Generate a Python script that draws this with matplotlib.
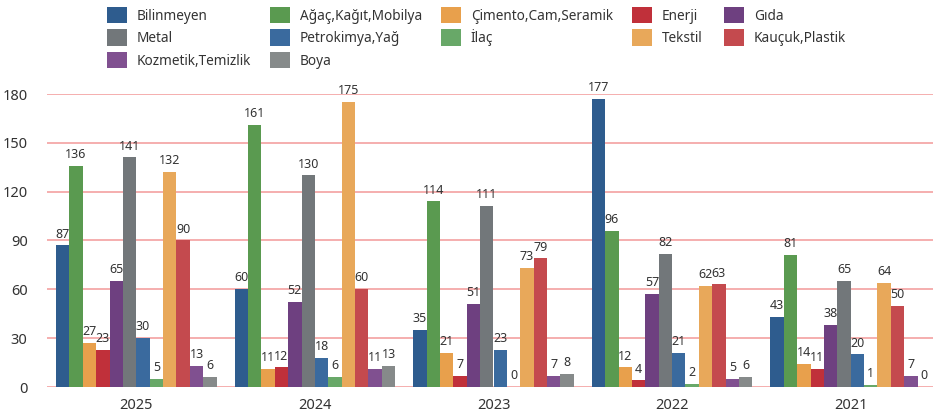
import matplotlib
matplotlib.use("Agg")
import matplotlib.pyplot as plt
import numpy as np
from matplotlib.patches import Patch

plt.rcParams['font.family'] = ['Noto Sans', 'DejaVu Sans']

years = ["2025", "2024", "2023", "2022", "2021"]
series = ["Bilinmeyen", "Ağaç,Kağıt,Mobilya", "Çimento,Cam,Seramik", "Enerji", "Gıda",
          "Metal", "Petrokimya,Yağ", "İlaç", "Tekstil", "Kauçuk,Plastik",
          "Kozmetik,Temizlik", "Boya"]
colors = ["#2E5C8E", "#5A9A50", "#E8A04C", "#C0303A", "#6E4080",
          "#72777A", "#3A6A9E", "#68A868", "#E8A85A", "#C44A4E",
          "#805090", "#868A8A"]

v2025 = [87, 136, 27, 23, 65, 141, 30, 5, 132, 90, 13, 6]
v2024 = [60, 161, 11, 12, 52, 130, 18, 6, 175, 60, 11, 13]
v2023 = [35, 114, 21, 7, 51, 111, 23, 0, 73, 79, 7, 8]
v2022 = [177, 96, 12, 4, 57, 82, 21, 2, 62, 63, 5, 6]
v2021 = [43, 81, 14, 11, 38, 65, 20, 1, 64, 50, 7, 0]
values = np.array([v2025, v2024, v2023, v2022, v2021])

yticks = [0, 30, 60, 90, 120, 150, 180]

W, H = 933, 415
fig = plt.figure(figsize=(W / 100, H / 100), dpi=100)
ax = fig.add_axes([47 / W, (H - 387) / H, (933 - 47) / W, (387 - 94) / H])

x = np.arange(len(years))
n = len(series)
bw = 0.9 / n
for i in range(n):
    pos = x - 0.45 + bw * (i + 0.5)
    ax.bar(pos, values[:, i], width=bw, color=colors[i], zorder=3, label=series[i])
    for p, v in zip(pos, values[:, i]):
        ax.text(p, v + 3, str(v), ha='center', va='bottom', fontsize=9,
                color='#333333', zorder=4, clip_on=False)

ax.set_ylim(0, 180)
ax.set_xlim(-0.5, 4.5 - 7 / 178.6)
ax.set_yticks(yticks)
ax.set_yticklabels([str(t) for t in yticks], fontsize=10.5, color='#333333')
ax.set_xticks(x)
ax.set_xticklabels(years, fontsize=10.5, color='#333333')
ax.tick_params(length=0, pad=8)
ax.tick_params(axis='y', pad=14)
for s in ax.spines.values():
    s.set_visible(False)
ax.grid(axis='y', color='#F4A8A8', linewidth=1.3, zorder=0)
ax.set_axisbelow(True)

# legend: one column per legend, placed like the reference (row-major order)
columns = [[0, 5, 10], [1, 6, 11], [2, 7], [3, 8], [4, 9]]
col_x = [100, 263, 434, 625, 717]
for cx, col in zip(col_x, columns):
    handles = [Patch(facecolor=colors[k], edgecolor='none') for k in col]
    labels = [series[k] for k in col]
    fig.legend(handles, labels, ncol=1, loc='upper left',
               bbox_to_anchor=(cx / W, 1.0), frameon=False, fontsize=9.8,
               handlelength=1.5, handleheight=1.5, handletextpad=0.7,
               labelspacing=0.42, borderaxespad=0.15, borderpad=0.35,
               labelcolor='#333333')

fig.savefig("out.png", dpi=100)
